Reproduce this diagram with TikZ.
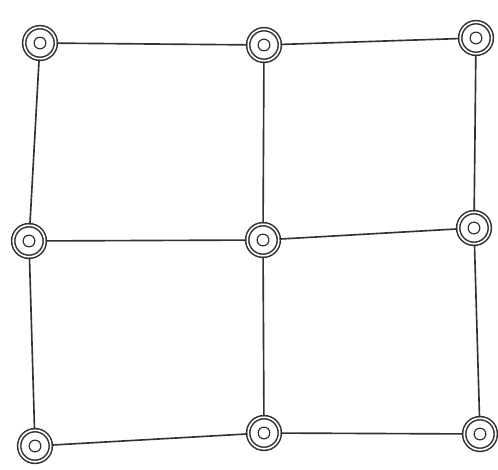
\documentclass[tikz,border=0pt]{standalone}
\usepackage{tikz}
\usetikzlibrary{positioning}
\definecolor{pencol}{RGB}{50,50,50}
\tikzset{
  knot/.style={circle,draw=pencol,line width=1.3pt,double=white,double distance=1.4pt,minimum size=27pt,inner sep=0pt,
    path picture={\draw[pencol,line width=1pt] (path picture bounding box.center) circle (5pt);}},
  edge/.style={pencol,line width=1.4pt}
}

\begin{document}
\begin{tikzpicture}[x=0.03cm,y=-0.03cm]
  \useasboundingbox (0,0) rectangle (498,469);
  % top row
  \node[knot] (tl) at (40,43) {};
  \node[knot] (tm) at (264,45) {};
  \node[knot] (tr) at (476,38) {};
  % middle row
  \node[knot] (ml) at (29,241) {};
  \node[knot] (mm) at (263,240) {};
  \node[knot] (mr) at (474,228) {};
  % bottom row
  \node[knot] (bl) at (35,446) {};
  \node[knot] (bm) at (264,433) {};
  \node[knot] (br) at (480,434) {};
  % horizontal strokes
  \draw[edge] (tl) -- (tm);
  \draw[edge] (tm) -- (tr);
  \draw[edge] (ml) -- (mm);
  \draw[edge] (mm) -- (mr);
  \draw[edge] (bl) -- (bm);
  \draw[edge] (bm) -- (br);
  % vertical strokes
  \draw[edge] (tl) -- (ml);
  \draw[edge] (ml) -- (bl);
  \draw[edge] (tm) -- (mm);
  \draw[edge] (mm) -- (bm);
  \draw[edge] (tr) -- (mr);
  \draw[edge] (mr) -- (br);
\end{tikzpicture}
\end{document}
